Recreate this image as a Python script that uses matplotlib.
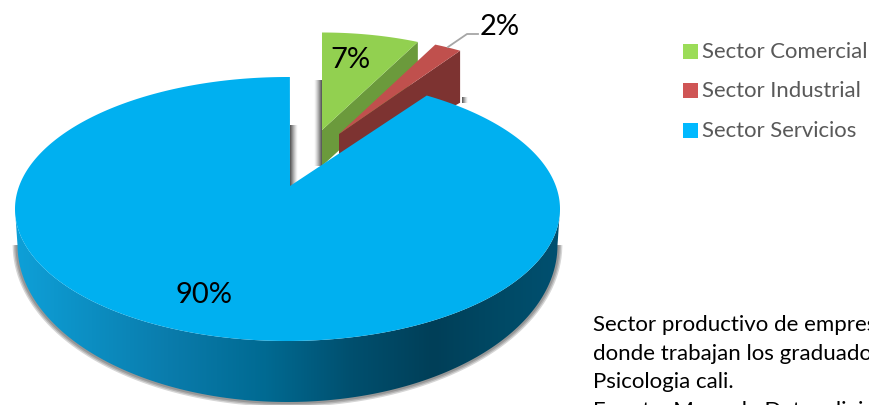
import numpy as np
import matplotlib
matplotlib.use("Agg")
import matplotlib.pyplot as plt
from matplotlib.colors import LinearSegmentedColormap
from matplotlib.patches import Polygon, Rectangle

categories = ["Sector Comercial", "Sector Industrial", "Sector Servicios"]
values = [7, 2, 90]
value_labels = ["7%", "2%", "90%"]
top_colors = ["#92d050", "#c0504d", "#00b0f0"]
side_colors = ["#6b9a3c", "#7d3331"]
note_lines = ["Sector productivo de empresas", "donde trabajan los graduados de", "Psicologia cali.", "Fuente: Mapa de Datos división"]

plt.rcParams['font.family'] = ['Lato', 'DejaVu Sans']

fig = plt.figure(figsize=(8.7, 4.05), dpi=100)
ax = fig.add_axes([0, 0, 1, 1])
ax.set_xlim(0, 870)
ax.set_ylim(405, 0)
ax.axis('off')

# slice angles in degrees, clockwise from the top
fracs = np.array(values) / sum(values)
edges = 90 - np.concatenate([[0], np.cumsum(fracs)]) * 360


def arc(cx, cy, a, b, t0, t1, n=200):
    t = np.radians(np.linspace(t0, t1, n))
    return np.column_stack([cx + a * np.cos(t), cy - b * np.sin(t)])


def soft_shadow(pts, widths=(7, 5, 3), alpha=0.16, zorder=1):
    for w in widths:
        ax.plot(pts[:, 0], pts[:, 1], color='black', lw=w, alpha=alpha, zorder=zorder,
                solid_capstyle='butt')


def side_shadow(x_dark, x_clear, y0, y1, zorder):
    # dark next to the slice, fading out sideways
    rgba = np.zeros((1, 32, 4))
    rgba[0, :, 3] = np.linspace(0.75, 0, 32) ** 1.3
    ax.imshow(rgba, extent=(x_dark, x_clear, y1, y0), aspect='auto', zorder=zorder,
              interpolation='bilinear')


# big slice, the ellipse centre is not the apex because of the perspective
apex = (290, 186)
top = (287.5, 209, 272.5, 132)
low = (287.5, 245, 270, 157)

soft_shadow(arc(*low, 180, 360))

wall = np.vstack([arc(*top, 180, 360), arc(*low, 360, 180)])
wall_cmap = LinearSegmentedColormap.from_list(
    "wall", [(0, "#0ea0d8"), (0.28, "#0a7cac"), (0.46, "#006a92"), (0.62, "#004f6e"),
             (0.77, "#003f58"), (0.9, "#004a66"), (1, "#005070")])
wall_patch = Polygon(wall, closed=True, fc='none', ec='none', zorder=2)
ax.add_patch(wall_patch)
img = ax.imshow(np.linspace(0, 1, 256)[None, :], cmap=wall_cmap, extent=(15, 560, 405, 200),
                aspect='auto', zorder=2)
img.set_clip_path(wall_patch)

# shadow behind the cut edge of the big slice
side_shadow(290, 298, 125, 186, 2)

# green slice
g_apex = (322, 130)
g_a, g_b = 223, 97.5
g_depth = 36
g_rim = arc(*g_apex, g_a, g_b, edges[0], edges[1], 40)
side_shadow(322, 314, 80, 166, 3)
ax.add_patch(Polygon([g_apex, g_rim[-1], g_rim[-1] + [0, g_depth], (g_apex[0], g_apex[1] + g_depth)],
                     closed=True, fc=side_colors[0], ec='none', zorder=4))
ax.add_patch(Polygon(np.vstack([[g_apex], g_rim]), closed=True, fc=top_colors[0], ec='none', zorder=5))

# red slice
r_apex = (339, 134)
r_a, r_b = 224, 99
r_rim = arc(*r_apex, r_a, r_b, edges[1], edges[2], 20)
side_shadow(462, 468, 97, 103, 3)
ax.add_patch(Polygon([r_apex, r_rim[-1], r_rim[-1] + [0, 52], (r_apex[0], r_apex[1] + 36)],
                     closed=True, fc=side_colors[1], ec='none', zorder=6))
ax.add_patch(Polygon(np.vstack([[r_apex], r_rim]), closed=True, fc=top_colors[1], ec='none', zorder=7))

# top of the big slice goes over the other two, perspective moves its ends a little
b_rim = arc(*top, edges[2] + 2, edges[3] - 0.5, 400)
ax.add_patch(Polygon(np.vstack([[apex], b_rim]), closed=True, fc=top_colors[2], ec='none', zorder=8))

ax.set_xlim(0, 870)
ax.set_ylim(405, 0)

# labels
ax.text(350, 60, value_labels[0], fontsize=21, color='black', ha='center', va='center', zorder=10)
ax.text(500, 27, value_labels[1], fontsize=21, color='black', ha='center', va='center', zorder=10)
ax.text(204, 295, value_labels[2], fontsize=21, color='black', ha='center', va='center', zorder=10)
ax.plot([448, 467, 478], [47, 34, 34], color='#a6a6a6', lw=1.3, zorder=9)

# legend
for y, name, c in zip([51, 90, 130], categories, ["#9bdc58", "#cf5555", "#00b9ff"]):
    ax.add_patch(Rectangle((683, y - 7), 15, 15, fc=c, ec='none', zorder=10))
    ax.text(702, y + 1, name, fontsize=15.9, color='#595959', ha='left', va='center', zorder=10)

# note under the legend, runs off the picture like in the original
for y, line in zip([325, 354, 382, 411], note_lines):
    ax.text(593, y, line, fontsize=16, color='black', ha='left', va='center', zorder=10)

fig.savefig("out.png", dpi=100)
